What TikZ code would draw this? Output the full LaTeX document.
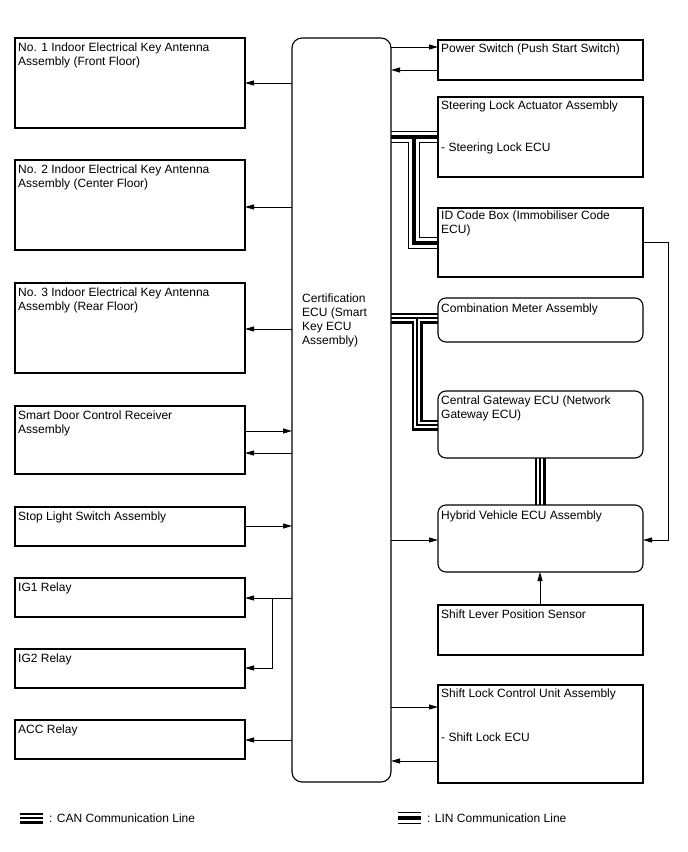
\documentclass[tikz,border=0pt]{standalone}
\usepackage{fontspec}
\setmainfont{Liberation Sans}
\usetikzlibrary{arrows.meta,calc,backgrounds}
\begin{document}
\begin{tikzpicture}[x=1pt,y=-1pt,
 box/.style={draw, line width=1.1pt, fill=white, rectangle, inner sep=0pt, outer sep=0pt, anchor=north west},
 rbox/.style={box, rounded corners=8pt},
 txt/.style={anchor=north west, inner sep=0pt, align=left, font=\fontsize{12}{14}\selectfont},
 arr/.style={line width=0.9pt, -{Triangle[length=9pt,width=5pt]}},
 plain/.style={line width=0.9pt},
 linbus/.style={line width=12pt, draw=black, postaction={draw=white, line width=9.4pt}, postaction={draw=black, line width=3.4pt}},
 canbus/.style={line width=11pt, draw=black, postaction={draw=white, line width=6pt}, postaction={draw=black, line width=1.4pt}},
]
\useasboundingbox (0,0) rectangle (688,852);

% left column
\node[box, minimum width=230pt, minimum height=90pt] (n1) at (15,38) {};
\node[txt] (t1) at (18,42) {\rule{0pt}{9pt}No. 1 Indoor Electrical Key Antenna\\Assembly (Front Floor)};
\node[box, minimum width=230pt, minimum height=90pt] (n2) at (15,160) {};
\node[txt] (t2) at (18,164) {\rule{0pt}{9pt}No. 2 Indoor Electrical Key Antenna\\Assembly (Center Floor)};
\node[box, minimum width=230pt, minimum height=90pt] (n3) at (15,283) {};
\node[txt] (t3) at (18,287) {\rule{0pt}{9pt}No. 3 Indoor Electrical Key Antenna\\Assembly (Rear Floor)};
\node[box, minimum width=230pt, minimum height=68pt] (sd) at (15,406) {};
\node[txt] (t4) at (18,410) {\rule{0pt}{9pt}Smart Door Control Receiver\\Assembly};
\node[box, minimum width=230pt, minimum height=39pt] (sls) at (15,507) {};
\node[txt] (t5) at (18,511) {\rule{0pt}{9pt}Stop Light Switch Assembly};
\node[box, minimum width=230pt, minimum height=39pt] (ig1) at (15,578) {};
\node[txt] (t6) at (18,582) {\rule{0pt}{9pt}IG1 Relay};
\node[box, minimum width=230pt, minimum height=39pt] (ig2) at (15,649) {};
\node[txt] (t7) at (18,653) {\rule{0pt}{9pt}IG2 Relay};
\node[box, minimum width=230pt, minimum height=39pt] (acc) at (15,720) {};
\node[txt] (t8) at (18,724) {\rule{0pt}{9pt}ACC Relay};

% ECU
\node[box, rounded corners=10pt, minimum width=99pt, minimum height=744pt] (ecu) at (292,38) {};
\node[txt] (te) at (302,293) {\rule{0pt}{9pt}Certification\\ECU (Smart\\Key ECU\\Assembly)};

% right column
\node[box, minimum width=205pt, minimum height=40pt] (ps) at (438,40) {};
\node[txt] (t9) at (441,43) {\rule{0pt}{9pt}Power Switch (Push Start Switch)};
\node[box, minimum width=205pt, minimum height=80pt] (sla) at (438,97) {};
\node[txt] (t10) at (441,100) {\rule{0pt}{9pt}Steering Lock Actuator Assembly};
\node[txt] (t10b) at (441,142) {\rule{0pt}{9pt}- Steering Lock ECU};
\node[box, minimum width=205pt, minimum height=69pt] (id) at (438,208) {};
\node[txt] (t11) at (441,210) {\rule{0pt}{9pt}ID Code Box (Immobiliser Code\\ECU)};
\node[rbox, minimum width=205pt, minimum height=44pt] (cm) at (438,298) {};
\node[txt] (t12) at (441,303) {\rule{0pt}{9pt}Combination Meter Assembly};
\node[rbox, minimum width=205pt, minimum height=67pt] (gw) at (438,391) {};
\node[txt] (t13) at (441,395) {\rule{0pt}{9pt}Central Gateway ECU (Network\\Gateway ECU)};
\node[rbox, minimum width=205pt, minimum height=67pt] (hv) at (438,505) {};
\node[txt] (t14) at (441,510) {\rule{0pt}{9pt}Hybrid Vehicle ECU Assembly};
\node[box, minimum width=205pt, minimum height=50pt] (slp) at (438,605) {};
\node[txt] (t15) at (441,609) {\rule{0pt}{9pt}Shift Lever Position Sensor};
\node[box, minimum width=205pt, minimum height=98pt] (shl) at (438,685) {};
\node[txt] (t16) at (441,688) {\rule{0pt}{9pt}Shift Lock Control Unit Assembly};
\node[txt] (t16b) at (441,732) {\rule{0pt}{9pt}- Shift Lock ECU};

% left arrows
\draw[arr] (ecu.west |- n1.east) -- (n1.east);
\draw[arr] (ecu.west |- 0,207) -- (n2.east |- 0,207);
\draw[arr] (ecu.west |- 0,329) -- (n3.east |- 0,329);
\draw[arr] (sd.east |- 0,431) -- (ecu.west |- 0,431);
\draw[arr] (ecu.west |- 0,453) -- (sd.east |- 0,453);
\draw[arr] (sls.east |- 0,526) -- (ecu.west |- 0,526);
\draw[arr] (ecu.west |- 0,598) -- (ig1.east |- 0,598);
\coordinate (igj) at (272,598);
\draw[arr] (igj) |- (ig2.east |- 0,668);
\draw[arr] (ecu.west |- 0,740) -- (acc.east |- 0,740);

% right arrows
\draw[arr] (ecu.east |- 0,47) -- (ps.west |- 0,47);
\draw[arr] (ps.west |- 0,70) -- (ecu.east |- 0,70);
\draw[arr] (ecu.east |- 0,540) -- (hv.west |- 0,540);
\draw[arr] (ecu.east |- 0,707) -- (shl.west |- 0,707);
\draw[arr] (shl.west |- 0,761) -- (ecu.east |- 0,761);
\coordinate (idr) at (668,242);
\draw[plain] (id.east |- idr) -- (idr);
\draw[arr] (idr) |- (hv.east |- 0,540);
\draw[arr] (slp.north -| 540,0) -- (hv.south -| 540,0);

% buses
\begin{scope}[on background layer]
\coordinate (linj) at (414,137);
\coordinate (lind) at (414,243);
\path[linbus] (ecu.east |- linj) -- (sla.west |- linj) (linj) -- (lind) -- (id.west |- lind);
\coordinate (canj) at (417,318);
\coordinate (cand) at (417,425);
\path[canbus] (ecu.east |- canj) -- (cm.west |- canj) (canj) -- (cand) -- (gw.west |- cand);
\path[canbus] (gw.south -| 540,0) -- (hv.north -| 540,0);
\end{scope}

% legend
\coordinate (lc1) at (20,818);
\coordinate (lc2) at (43,818);
\path[canbus] (lc1) -- (lc2);
\node[txt] (lt1) at (49,813) {\rule{0pt}{9pt}: CAN Communication Line};
\coordinate (ll1) at (398,818);
\coordinate (ll2) at (421,818);
\path[linbus] (ll1) -- (ll2);
\node[txt] (lt2) at (427,813) {\rule{0pt}{9pt}: LIN Communication Line};
\end{tikzpicture}
\end{document}
